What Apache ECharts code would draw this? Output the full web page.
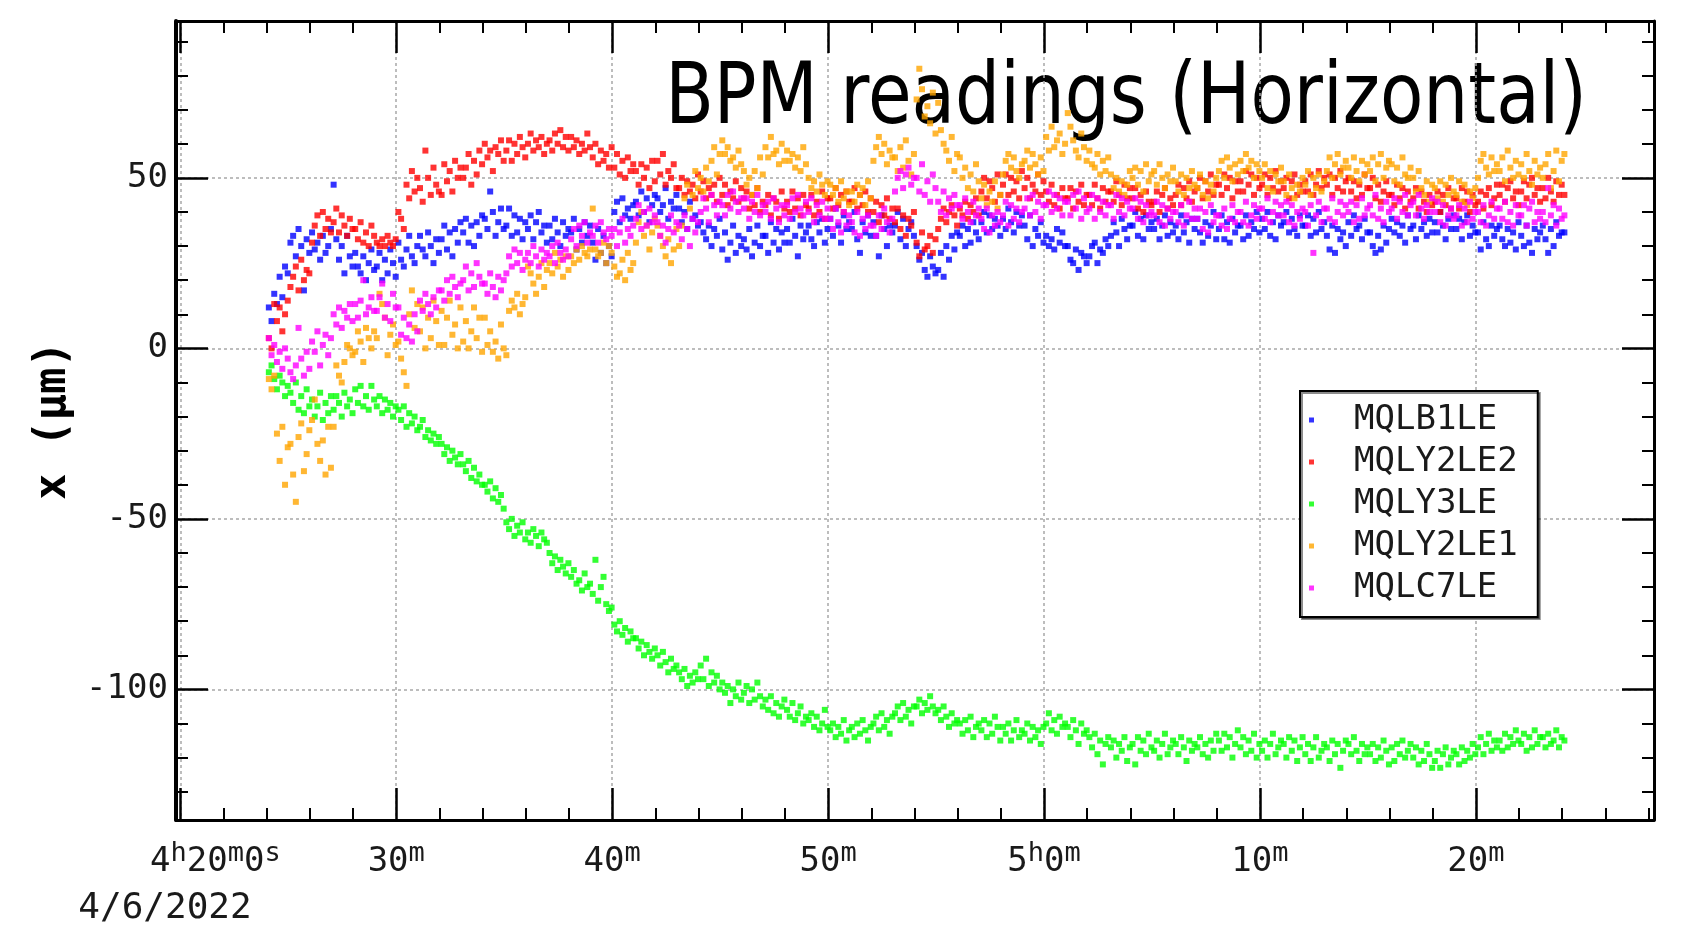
<!DOCTYPE html>
<html>
<head>
<meta charset="utf-8">
<script src="https://cdn.jsdelivr.net/npm/echarts@6/dist/echarts.min.js"></script>
<style>
html,body{margin:0;padding:0;background:#fff;}
#chart{width:1692px;height:937px;}
</style>
</head>
<body>
<div id="chart"></div>
<script>
// ---------------- data ----------------
const seriesNames = ['MQLB1LE', 'MQLY2LE2', 'MQLY3LE', 'MQLY2LE1', 'MQLC7LE'];
const seriesColors = ['#0000ff', '#ff0000', '#00ff00', '#ffa500', '#ff00ff'];
const sampleStartMin = 24.1;      // first sample, minutes after 4h00m
const sampleStepMin = 7.5 / 60;   // one sample every 7.5 s
const dateLabel = '4/6/2022';
const titleText = 'BPM readings (Horizontal)';
const yAxisName = 'x (μm)';
const xTickValues = [20, 30, 40, 50, 60, 70, 80];
const xTickLabels = ['4^h20^m0^s', '30^m', '40^m', '50^m', '5^h0^m', '10^m', '20^m'];
const xMinorValues = [22, 24, 26, 28, 32, 34, 36, 38, 42, 44, 46, 48, 52, 54, 56, 58, 62, 64, 66, 68, 72, 74, 76, 78, 82, 84, 86, 88];
const yTickValues = [-100, -50, 0, 50];
const yTickLabels = ['-100', '-50', '0', '50'];
const yMinorValues = [-130, -120, -110, -90, -80, -70, -60, -40, -30, -20, -10, 10, 20, 30, 40, 60, 70, 80, 90];

// one row = one minute (8 samples)
const MQLB1LE = [
 12,8,16,13,21,15,24,22, 31,33,27,35,30,17,32,28, 34,29,31,26,33,28,30,35, 48,32,26,30,22,33,27,24,
 28,24,22,27,20,25,29,23, 24,28,20,26,22,29,25,21, 31,26,24,29,33,27,25,30, 33,29,27,34,30,25,32,28,
 32,36,29,34,27,35,31,37, 34,38,31,36,30,37,33,39, 38,35,46,40,33,37,41,35, 36,41,33,39,34,38,32,37,
 35,39,32,37,40,34,36,31, 36,32,38,34,30,37,33,35, 34,38,29,35,31,37,33,36, 31,26,35,28,33,25,30,27,
 40,43,37,44,39,41,38,42, 43,39,46,40,44,37,42,45, 44,40,42,47,38,43,41,45, 41,37,40,35,43,38,39,36,
 37,34,32,36,30,35,33,38, 29,34,26,31,36,28,33,30, 32,29,35,27,31,36,30,33, 33,28,37,31,35,29,34,31,
 35,31,38,33,27,36,32,34, 36,32,30,37,34,38,31,35, 38,33,41,36,31,39,35,37, 35,40,32,28,37,34,39,33,
 37,33,27,39,35,30,36,34, 36,40,32,38,30,35,37,33, 30,26,28,23,21,27,24,22, 23,28,21,30,26,33,29,34,
 33,36,30,35,31,37,34,32, 37,40,34,39,35,38,36,33, 38,35,41,37,34,40,36,39, 36,32,39,30,35,33,37,31,
 33,30,32,29,35,31,34,30, 30,26,25,29,23,28,27,25, 27,30,31,25,29,28,32,30, 33,37,34,30,38,35,32,36,
 36,40,33,38,32,39,35,37, 35,38,32,36,39,33,37,34, 36,32,39,34,37,31,38,35, 38,34,31,37,33,36,40,32,
 35,39,32,37,31,38,34,36, 36,32,39,33,37,35,40,34, 38,35,40,33,37,32,39,36, 37,40,34,38,35,33,39,36,
 36,39,33,38,34,40,35,37, 33,29,36,28,35,32,34,30, 37,33,39,35,36,32,38,34, 34,30,28,33,29,36,31,35,
 38,34,37,33,36,31,39,35, 36,32,39,35,37,33,38,34, 37,34,40,36,32,38,35,39, 35,38,32,37,39,33,36,34,
 34,29,37,32,30,36,33,35, 36,32,30,35,31,34,29,37, 33,30,36,31,28,35,32,34, 36,32,28,35,30,37,33,34,
 34
];
const MQLY2LE2 = [
 3,0,13,8,12,5,10,14, 18,21,24,17,26,20,23,22, 31,36,39,33,40,35,38,34, 37,41,34,39,36,33,38,35,
 35,32,37,31,34,30,36,33, 31,30,32,30,33,31,30,32, 40,38,35,48,44,52,46,50, 47,43,58,50,45,53,48,46,
 45,54,49,52,46,55,50,53, 50,53,57,48,55,51,58,54, 60,56,58,52,59,57,61,55, 58,61,55,60,57,62,59,56,
 60,63,58,61,59,62,57,60, 61,58,63,60,64,59,62,58, 62,59,61,57,60,58,63,59, 56,60,54,58,55,57,53,59,
 53,57,51,55,50,56,52,54, 52,48,54,50,53,47,55,49, 55,51,57,48,52,50,54,47, 47,50,45,49,46,48,44,51,
 46,49,44,47,45,48,43,50, 45,48,42,46,44,49,43,47, 44,46,41,45,42,47,40,43, 42,45,39,44,43,38,46,41,
 43,40,46,41,44,39,45,42, 41,45,39,43,40,46,38,44, 44,41,47,42,45,40,46,43, 43,47,41,45,42,46,40,44,
 40,43,37,42,39,44,38,41, 37,41,35,39,33,38,36,40, 31,27,34,29,30,33,28,32, 35,38,41,37,40,42,39,36,
 41,39,43,38,42,40,44,39, 46,50,44,49,47,43,51,45, 48,51,45,50,46,49,44,52, 47,50,44,48,46,51,45,49,
 46,43,48,42,45,41,47,44, 44,47,41,46,43,48,42,45, 45,42,48,44,41,47,43,46, 46,43,49,45,42,48,44,47,
 44,47,41,45,40,46,43,42, 43,46,40,45,47,41,44,42, 45,48,42,47,44,49,43,46, 47,50,44,49,46,51,45,48,
 48,45,51,47,50,44,49,46, 49,46,52,48,51,45,50,47, 48,51,45,50,47,52,46,49, 47,50,44,49,51,45,48,46,
 49,46,51,45,48,52,47,50, 48,51,45,50,47,52,46,49, 50,46,49,44,48,45,51,47, 47,50,44,48,43,46,49,45,
 45,42,48,44,47,41,46,43, 44,47,41,46,43,40,45,42, 43,46,40,45,42,47,41,44, 44,41,47,43,46,40,45,42,
 43,46,41,45,47,42,44,48, 45,48,43,47,49,44,46,42, 46,49,44,48,50,45,47,43, 47,44,50,46,43,49,45,48,
 45
];
const MQLY3LE = [
 -7,-5,-9,-12,-8,-10,-14,-11, -13,-16,-10,-18,-14,-19,-12,-17, -15,-20,-17,-13,-21,-16,-19,-14, -18,-14,-16,-20,-13,-17,-15,-19,
 -12,-16,-11,-17,-14,-18,-11,-15, -17,-14,-19,-15,-18,-16,-20,-17, -18,-21,-17,-23,-19,-22,-20,-24, -23,-21,-26,-24,-27,-25,-28,-26,
 -28,-31,-29,-33,-30,-32,-34,-31, -34,-36,-33,-38,-35,-39,-37,-40, -40,-42,-39,-44,-41,-45,-43,-47, -51,-53,-50,-55,-52,-54,-51,-56,
 -54,-57,-53,-55,-58,-54,-56,-57, -60,-63,-61,-65,-62,-64,-66,-63, -67,-65,-69,-68,-71,-66,-70,-69, -72,-62,-74,-70,-67,-75,-77,-76,
 -81,-83,-80,-84,-82,-86,-83,-85, -85,-88,-86,-90,-87,-89,-91,-88, -90,-93,-89,-92,-95,-91,-94,-93, -95,-97,-94,-99,-96,-98,-95,-97,
 -93,-97,-91,-99,-95,-98,-96,-100, -98,-101,-99,-104,-100,-102,-98,-103, -101,-99,-104,-100,-103,-98,-102,-105, -103,-106,-102,-107,-104,-108,-105,-103,
 -106,-108,-104,-109,-107,-105,-110,-108, -109,-107,-111,-108,-112,-110,-106,-111, -112,-110,-114,-111,-113,-109,-115,-112, -111,-114,-110,-113,-109,-112,-115,-111,
 -110,-108,-112,-107,-111,-109,-113,-108, -107,-105,-109,-104,-108,-106,-110,-105, -105,-103,-107,-104,-106,-102,-105,-107, -106,-109,-105,-108,-111,-107,-110,-109,
 -110,-113,-109,-112,-108,-114,-111,-110, -112,-109,-114,-110,-113,-108,-111,-115, -111,-113,-110,-115,-112,-109,-114,-112, -113,-110,-115,-111,-114,-112,-116,-111,
 -110,-107,-112,-109,-113,-108,-111,-110, -111,-114,-109,-112,-116,-110,-113,-112, -114,-117,-113,-119,-115,-122,-116,-114, -117,-115,-120,-116,-118,-114,-121,-117,
 -116,-122,-114,-118,-115,-119,-113,-117, -118,-115,-120,-116,-113,-119,-117,-115, -116,-119,-114,-117,-121,-115,-118,-116, -117,-114,-119,-116,-120,-115,-118,-113,
 -115,-118,-113,-117,-114,-120,-116,-112, -117,-114,-119,-115,-118,-113,-120,-116, -118,-115,-120,-116,-113,-119,-117,-115, -116,-120,-114,-118,-115,-121,-117,-114,
 -119,-116,-121,-117,-114,-120,-118,-116, -117,-121,-115,-119,-116,-123,-118,-115, -116,-119,-114,-118,-121,-116,-119,-117, -119,-116,-121,-117,-120,-115,-118,-122,
 -117,-121,-116,-119,-115,-120,-118,-116, -120,-117,-122,-118,-121,-116,-119,-123, -121,-118,-123,-119,-117,-122,-120,-118, -119,-122,-117,-121,-118,-120,-116,-119,
 -117,-114,-119,-116,-113,-118,-115,-117, -115,-118,-113,-117,-114,-116,-112,-115, -116,-113,-118,-114,-117,-112,-116,-114, -114,-117,-113,-116,-115,-112,-117,-114,
 -115
];
const MQLY2LE1 = [
 -9,-12,-8,-25,-33,-23,-40,-29, -28,-37,-45,-26,-22,-36,-31,-24, -21,-15,-28,-33,-27,-37,-23,-35, -23,-5,-8,-10,-4,1,0,-2,
 -1,5,2,-4,6,3,0,5, 3,16,13,9,-2,4,7,1, 2,-3,-7,-11,10,17,6,13, 5,12,0,9,3,14,8,1,
 11,1,9,14,4,7,0,12, 2,8,0,5,12,3,9,-1, 9,1,5,-1,2,-3,7,0, -2,11,14,12,16,10,13,15,
 24,22,19,16,21,25,18,23, 25,22,28,24,26,21,27,23, 27,25,29,26,30,28,27,29, 41,29,27,28,31,25,30,28,
 24,21,22,26,20,28,23,25, 31,37,40,33,36,29,34,38, 36,33,30,27,32,25,29,35, 30,36,44,48,41,45,52,47,
 50,46,53,49,55,59,51,57, 61,57,59,55,56,53,58,54, 52,48,50,45,52,47,56,51, 59,56,62,57,58,54,60,55,
 58,55,57,53,56,52,59,54, 50,47,49,46,51,48,45,49, 48,45,47,43,49,44,46,42, 46,43,48,45,47,42,49,44,
 55,59,62,57,60,54,58,56, 56,52,59,53,61,55,51,57, 73,82,76,68,71,66,75,63, 72,64,60,58,55,62,52,57,
 56,50,53,47,51,46,54,49, 44,48,42,46,43,49,41,45, 51,55,57,53,56,52,50,54, 55,58,53,57,54,51,56,52,
 62,58,65,59,61,63,57,60, 69,65,61,58,56,63,59,55, 58,54,53,57,51,55,52,56, 51,47,50,46,49,45,48,52,
 50,53,48,52,46,54,49,51, 52,48,54,50,47,51,49,53, 49,46,51,45,50,47,52,48, 47,51,45,49,44,48,46,50,
 52,55,50,56,53,49,54,51, 55,52,57,53,55,50,54,52, 50,54,47,52,46,51,49,53, 49,45,51,47,44,48,46,50,
 48,52,45,50,47,51,46,49, 52,56,50,54,57,51,53,55, 53,50,56,52,49,55,51,54, 52,56,49,54,57,50,53,55,
 54,49,53,48,56,51,50,53, 50,46,52,47,45,49,43,48, 47,44,49,43,48,45,50,46, 45,49,43,48,42,46,44,47,
 50,55,57,53,51,56,52,54, 52,56,49,58,53,50,55,51, 54,50,57,52,48,55,51,53, 50,54,57,47,52,58,49,55,
 57
];
const MQLC7LE = [
 3,-2,1,-4,-1,-6,0,-3, -7,-9,-5,6,-3,-8,-1,-6, 2,-1,5,-5,1,4,-2,3, 10,7,12,6,11,9,13,8,
 13,9,14,20,10,12,15,11, 11,15,19,9,13,8,16,12, 12,4,9,3,7,2,10,5, 14,11,16,13,10,15,12,17,
 17,14,20,16,21,18,15,19, 20,24,17,22,18,25,21,19, 19,16,22,18,15,21,17,20, 22,27,24,29,25,28,23,26,
 28,25,30,27,24,29,26,28, 27,30,25,31,28,26,29,27, 32,35,30,36,33,37,31,34, 33,36,31,37,34,32,35,33,
 35,30,34,38,31,35,33,36, 38,42,35,40,36,41,37,39, 37,33,36,31,35,39,34,37, 36,32,39,35,30,38,34,37,
 40,44,41,37,45,42,39,43, 42,39,45,41,46,43,40,44, 41,44,38,43,40,45,39,42, 40,43,38,44,41,37,42,39,
 42,38,44,40,45,41,39,43, 40,44,37,42,39,43,38,41, 38,35,41,37,34,40,36,39, 37,34,40,33,38,35,39,36,
 36,33,39,35,41,37,34,38, 46,50,52,47,51,53,48,50, 50,46,54,45,49,43,51,47, 43,40,46,39,44,41,45,42,
 42,38,44,40,37,43,39,41, 38,35,41,34,39,36,40,37, 39,43,36,42,38,41,37,40, 41,44,39,45,40,43,38,42,
 42,46,40,45,41,44,39,43, 43,39,45,41,46,38,44,40, 41,45,38,44,40,43,39,42, 42,38,45,40,44,39,43,41,
 41,44,38,43,37,42,39,40, 39,43,37,42,36,41,38,40, 40,37,42,36,39,43,38,41, 38,41,35,40,34,42,37,39,
 39,36,41,35,38,42,37,40, 40,37,43,36,39,42,38,41, 41,38,44,37,40,43,39,42, 39,43,37,42,36,40,38,41,
 40,36,42,28,39,43,37,41, 41,38,44,37,40,43,39,42, 40,43,37,42,38,44,39,41, 42,39,45,38,41,37,43,40,
 41,44,38,43,40,45,39,42, 43,39,45,41,38,42,40,44, 40,43,37,42,36,39,41,38, 39,42,36,41,37,43,38,40,
 40,37,42,36,39,43,38,41, 41,38,43,37,40,36,42,39, 39,42,36,41,43,37,40,38, 40,37,47,39,42,36,41,38,
 39
];
const seriesValues = [MQLB1LE, MQLY2LE2, MQLY3LE, MQLY2LE1, MQLC7LE];

// ---------------- chart ----------------
const MONO = '"DejaVu Sans Mono", "Liberation Mono", monospace';
const LABEL_COLOR = '#1a1a1a';
const X_MIN = 19.8, X_MAX = 88.25, Y_MIN = -138.3, Y_MAX = 96;

function xLabelFormatter(val) {
  const i = xTickValues.findIndex(v => Math.abs(v - val) < 1e-6);
  if (i < 0) return '';
  let s = xTickLabels[i].replace(/\^(\w)/g, '{s|$1}');
  if (i === 0) s = '{g| }' + s;
  return s;
}
function yLabelFormatter(val) {
  const i = yTickValues.findIndex(v => Math.abs(v - val) < 1e-6);
  return i < 0 ? '' : yTickLabels[i];
}

const gridBox = { left: 176, right: 38, top: 21, bottom: 117, containLabel: false };
const frameLine = { show: true, onZero: false, lineStyle: { color: '#000', width: 3 } };
const noLine = { show: false, onZero: false };
const majorTick = (vals) => ({ show: true, inside: true, length: 32, customValues: vals, lineStyle: { color: '#000', width: 2.5 } });
const minorTickCfg = (vals) => ({ show: true, inside: true, length: 12, customValues: vals, lineStyle: { color: '#000', width: 2 } });
const gridDots = { show: true, lineStyle: { color: '#a8a8a8', width: 1.5, type: [3, 3] } };

function xAx(grid, pos, extra) {
  return Object.assign({
    type: 'value', gridIndex: grid, position: pos, min: X_MIN, max: X_MAX,
    axisLine: frameLine, axisLabel: { show: false }, splitLine: { show: false }, minorTick: { show: false }
  }, extra);
}
function yAx(grid, pos, extra) {
  return Object.assign({
    type: 'value', gridIndex: grid, position: pos, min: Y_MIN, max: Y_MAX,
    axisLine: frameLine, axisLabel: { show: false }, splitLine: { show: false }, minorTick: { show: false }
  }, extra);
}

const option = {
  animation: false,
  backgroundColor: '#ffffff',
  grid: [Object.assign({}, gridBox), Object.assign({}, gridBox)],
  xAxis: [
    xAx(0, 'bottom', {
      axisTick: majorTick(xTickValues),
      axisLabel: {
        show: true, customValues: xTickValues, formatter: xLabelFormatter,
        fontFamily: MONO, fontSize: 34, lineHeight: 44, color: LABEL_COLOR, margin: 20,
        rich: {
          s: { fontFamily: MONO, fontSize: 27, lineHeight: 27, verticalAlign: 'top', color: LABEL_COLOR },
          g: { width: 70, fontSize: 34 }
        }
      },
      splitLine: gridDots
    }),
    xAx(0, 'top', { axisTick: majorTick(xTickValues) }),
    xAx(1, 'bottom', { axisLine: noLine, axisTick: minorTickCfg(xMinorValues) }),
    xAx(1, 'top', { axisLine: noLine, axisTick: minorTickCfg(xMinorValues) })
  ],
  yAxis: [
    yAx(0, 'left', {
      axisLine: { show: true, onZero: false, lineStyle: { color: '#000', width: 4 } },
      axisTick: majorTick(yTickValues),
      axisLabel: {
        show: true, customValues: yTickValues, formatter: yLabelFormatter,
        fontFamily: MONO, fontSize: 34, color: LABEL_COLOR, margin: 8
      },
      splitLine: gridDots,
      name: yAxisName, nameLocation: 'middle', nameGap: 93, nameRotate: 90,
      nameTextStyle: { fontFamily: MONO, fontSize: 44, fontWeight: 'bold', color: '#000' }
    }),
    yAx(0, 'right', { axisTick: majorTick(yTickValues) }),
    yAx(1, 'left', { axisLine: noLine, axisTick: minorTickCfg(yMinorValues) }),
    yAx(1, 'right', { axisLine: noLine, axisTick: minorTickCfg(yMinorValues) })
  ],
  legend: {
    data: seriesNames,
    orient: 'vertical',
    left: 1300, top: 391,
    icon: 'rect', itemWidth: 5, itemHeight: 5, itemGap: 8,
    padding: [12, 20, 12, 9],
    backgroundColor: '#ffffff',
    borderColor: '#000', borderWidth: 2,
    shadowColor: 'rgba(0,0,0,0.45)', shadowOffsetX: 2, shadowOffsetY: 2, shadowBlur: 0,
    textStyle: { fontFamily: MONO, fontSize: 34, lineHeight: 34, color: LABEL_COLOR, padding: [0, 0, 0, 35] },
    selectedMode: false
  },
  graphic: [
    {
      type: 'text', x: 1587, y: 101, scaleX: 0.825, z: 0, silent: true,
      style: { text: titleText, font: '86px "DejaVu Sans"', fill: '#000', textAlign: 'right', align: 'right', textVerticalAlign: 'middle', verticalAlign: 'middle' }
    },
    {
      type: 'text', x: 165, y: 909, z: 10, silent: true,
      style: { text: dateLabel, font: '36px ' + MONO, fill: LABEL_COLOR, textAlign: 'center', align: 'center', textVerticalAlign: 'middle', verticalAlign: 'middle' }
    }
  ],
  series: seriesNames.map((name, k) => ({
    name: name,
    type: 'scatter',
    xAxisIndex: 0, yAxisIndex: 0,
    symbol: 'rect', symbolSize: 6,
    z: 3,
    itemStyle: { color: seriesColors[k] },
    emphasis: { disabled: true },
    data: seriesValues[k].map((v, i) => [sampleStartMin + i * sampleStepMin, v])
  }))
};

const chart = echarts.init(document.getElementById('chart'), null, { renderer: 'canvas' });
chart.setOption(option);
</script>
</body>
</html>
